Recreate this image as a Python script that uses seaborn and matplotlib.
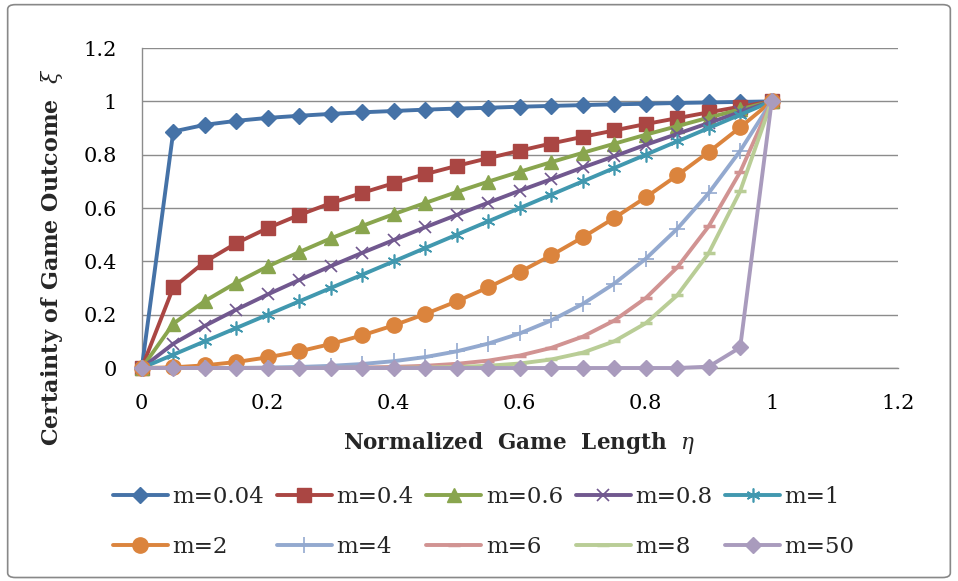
import matplotlib
matplotlib.use("Agg")
import matplotlib.pyplot as plt
import seaborn as sns
import pandas as pd
from matplotlib.patches import FancyBboxPatch
from matplotlib.ticker import FuncFormatter, MultipleLocator

eta = [0, 0.05, 0.1, 0.15, 0.2, 0.25, 0.3, 0.35, 0.4, 0.45, 0.5,
       0.55, 0.6, 0.65, 0.7, 0.75, 0.8, 0.85, 0.9, 0.95, 1.0]

m_004 = [0, 0.887, 0.912, 0.927, 0.938, 0.946, 0.953, 0.959, 0.964, 0.969, 0.973,
         0.976, 0.980, 0.983, 0.986, 0.989, 0.991, 0.994, 0.996, 0.998, 1.0]
m_04 = [0, 0.302, 0.398, 0.468, 0.525, 0.574, 0.618, 0.657, 0.693, 0.727, 0.758,
        0.787, 0.815, 0.842, 0.867, 0.891, 0.915, 0.937, 0.959, 0.980, 1.0]
m_06 = [0, 0.166, 0.251, 0.320, 0.381, 0.435, 0.486, 0.533, 0.577, 0.619, 0.660,
        0.699, 0.736, 0.772, 0.807, 0.841, 0.875, 0.907, 0.939, 0.970, 1.0]
m_08 = [0, 0.091, 0.158, 0.219, 0.276, 0.330, 0.382, 0.432, 0.480, 0.528, 0.574,
        0.620, 0.665, 0.708, 0.752, 0.794, 0.837, 0.878, 0.919, 0.960, 1.0]
m_1 = [0, 0.05, 0.10, 0.15, 0.20, 0.25, 0.30, 0.35, 0.40, 0.45, 0.50,
       0.55, 0.60, 0.65, 0.70, 0.75, 0.80, 0.85, 0.90, 0.95, 1.0]
m_2 = [0, 0.0025, 0.01, 0.0225, 0.04, 0.0625, 0.09, 0.1225, 0.16, 0.2025, 0.25,
       0.3025, 0.36, 0.4225, 0.49, 0.5625, 0.64, 0.7225, 0.81, 0.9025, 1.0]
m_4 = [0, 0.0, 0.0001, 0.0005, 0.0016, 0.0039, 0.0081, 0.015, 0.0256, 0.041, 0.0625,
       0.0915, 0.1296, 0.1785, 0.2401, 0.3164, 0.4096, 0.522, 0.6561, 0.8145, 1.0]
m_6 = [0, 0.0, 0.0, 0.0, 0.0001, 0.0002, 0.0007, 0.0018, 0.0041, 0.0083, 0.0156,
       0.0277, 0.0467, 0.0754, 0.1176, 0.178, 0.2621, 0.3771, 0.5314, 0.7351, 1.0]
m_8 = [0, 0.0, 0.0, 0.0, 0.0, 0.0, 0.0001, 0.0002, 0.0007, 0.0017, 0.0039,
       0.0084, 0.0168, 0.0319, 0.0576, 0.1001, 0.1678, 0.2725, 0.4305, 0.6634, 1.0]
m_50 = [0, 0, 0, 0, 0, 0, 0, 0, 0, 0, 0,
        0, 0, 0, 0, 0, 0, 0, 0.005, 0.077, 1.0]

labels = ["m=0.04", "m=0.4", "m=0.6", "m=0.8", "m=1",
          "m=2", "m=4", "m=6", "m=8", "m=50"]
series = [m_004, m_04, m_06, m_08, m_1, m_2, m_4, m_6, m_8, m_50]

colors = ["#4572A7", "#AA4643", "#89A54E", "#71588F", "#4198AF",
          "#DB843D", "#93A9CF", "#D19392", "#B9CD96", "#A99BBD"]
asterisk = (6, 2, 0)
markers = ["D", "s", "^", "x", asterisk, "o", "+", "_", "_", "D"]
msizes = [8, 10, 10, 9, 10, 11, 11, 9, 9, 8]
mews = [1, 1, 1, 1.2, 1.2, 1, 1.2, 2.5, 2.5, 1]

sns.set_style("white")
plt.rcParams["font.family"] = ["DejaVu Serif"]
plt.rcParams["mathtext.fontset"] = "dejavuserif"

fig = plt.figure(figsize=(9.58, 5.81), dpi=100)
ax = fig.add_axes([0.148, 0.3666, 0.789, 0.5507])

handles = []
for ys, lab, c, mk, ms, mew in zip(series, labels, colors, markers, msizes, mews):
    df = pd.DataFrame({"eta": eta, "xi": ys})
    sns.lineplot(data=df, x="eta", y="xi", ax=ax, color=c, marker=mk,
                 markersize=ms, markeredgecolor=c, markerfacecolor=c,
                 markeredgewidth=mew, linewidth=2.8, label=lab,
                 legend=False, clip_on=False, zorder=3)
    handles.append(ax.lines[-1])

ax.set_xlim(0, 1.2)
ax.set_ylim(0, 1.2)
ax.xaxis.set_major_locator(MultipleLocator(0.2))
ax.yaxis.set_major_locator(MultipleLocator(0.2))
fmt = FuncFormatter(lambda v, p: f"{v:g}")
ax.xaxis.set_major_formatter(fmt)
ax.yaxis.set_major_formatter(fmt)
ax.tick_params(axis="both", labelsize=15, colors="black")
ax.tick_params(axis="x", direction="out", length=6, width=1, color="#888888", pad=13)
ax.tick_params(axis="y", length=0, pad=18)

ax.grid(axis="y", color="#8c8c8c", linewidth=1)
ax.grid(axis="x", visible=False)
for s in ["top", "right"]:
    ax.spines[s].set_visible(False)
for s in ["left", "bottom"]:
    ax.spines[s].set_color("#8c8c8c")
    ax.spines[s].set_linewidth(1)

ax.set_xlabel(r"Normalized  Game  Length  $\eta$", fontsize=15.5,
              fontweight="bold", labelpad=12)
ax.set_ylabel(r"Certainty of Game Outcome  $\xi$", fontsize=16,
              fontweight="bold")
ax.yaxis.set_label_coords(-0.102, 0.347)

order = [0, 5, 1, 6, 2, 7, 3, 8, 4, 9]
leg = fig.legend([handles[i] for i in order], [labels[i] for i in order],
                 ncol=5, loc="center", bbox_to_anchor=(0.505, 0.1015),
                 frameon=False, fontsize=16.5, handlelength=2.4,
                 handletextpad=0.2, columnspacing=0.55, labelspacing=1.2)

border = FancyBboxPatch((0.008, 0.006), 0.984, 0.986,
                        boxstyle="round,pad=0,rounding_size=0.008",
                        transform=fig.transFigure, fill=False,
                        edgecolor="#888888", linewidth=1.2)
fig.patches.append(border)

fig.savefig("out.png", dpi=100)
